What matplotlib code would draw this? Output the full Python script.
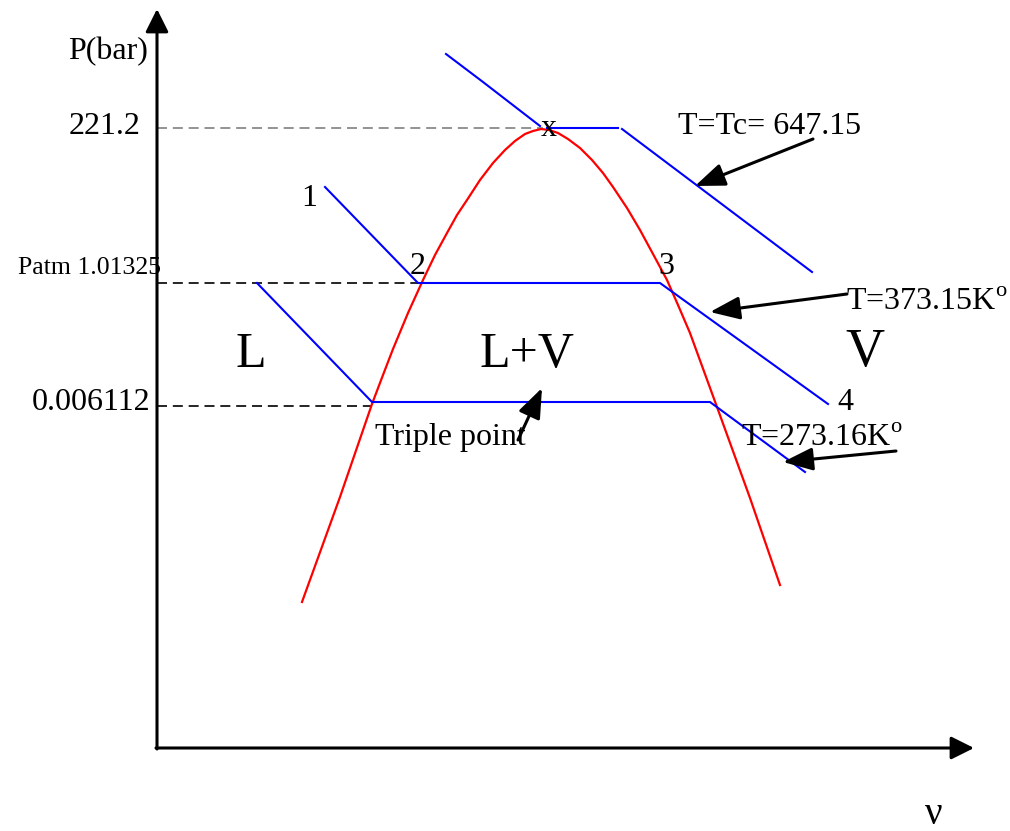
import matplotlib.pyplot as plt

plt.rcParams['font.family'] = ['Liberation Serif', 'DejaVu Serif']
plt.rcParams['mathtext.fontset'] = 'custom'
plt.rcParams['mathtext.rm'] = 'Liberation Serif'

# schematic P-v diagram, drawn in a canvas frame (v to the right, P upwards = smaller y)
dome_v = [302, 340, 372, 383, 393, 408, 423, 435, 447, 457, 467, 480, 493, 505, 515, 525,
          533, 541, 549, 558, 568, 580, 592, 603, 613, 627, 640, 653, 667, 678, 690, 717,
          750, 780]
dome_p = [602, 497, 404, 375, 349, 313, 280, 255, 233, 215, 200, 180, 163, 150, 141, 134,
          131, 129, 130, 133, 139, 148, 160, 173, 187, 208, 230, 254, 280, 305, 333, 407,
          498, 585]

# isotherms
tc_left_v = [446, 483, 540]
tc_left_p = [54, 82, 126]
tc_flat_v = [547, 618]
tc_flat_p = [128, 128]
tc_right_v = [622, 812]
tc_right_p = [129, 272]

t100_v = [325, 418, 660, 828]
t100_p = [187, 283, 283, 404]

t0_v = [257, 372, 710, 805]
t0_p = [283, 402, 402, 472]

# pressure levels and their labels
p_levels = [128, 283, 406]
p_level_ends = [543, 418, 372]
p_level_colors = ['#808080', 'black', 'black']

fig = plt.figure(figsize=(10.1, 8.31), dpi=100)
ax = fig.add_axes([0, 0, 1, 1])
ax.set_xlim(0, 1010)
ax.set_ylim(831, 0)
ax.axis('off')

# axes with arrow heads
axis_arrow = dict(arrowstyle='-|>,head_length=0.5,head_width=0.25',
                  lw=2.2, color='black', shrinkA=0, shrinkB=0, mutation_scale=28)
ax.annotate('', xy=(157, 9), xytext=(157, 749), arrowprops=axis_arrow)
ax.annotate('', xy=(974, 748), xytext=(156, 748), arrowprops=axis_arrow)

for p, end, c in zip(p_levels, p_level_ends, p_level_colors):
    ax.plot([157, end], [p, p], color=c, lw=1.2, linestyle=(0, (6, 3.5)))

ax.plot(dome_v, dome_p, color='red', lw=1.6)

for v, p in [(tc_left_v, tc_left_p), (tc_flat_v, tc_flat_p), (tc_right_v, tc_right_p),
             (t100_v, t100_p), (t0_v, t0_p)]:
    ax.plot(v, p, color='blue', lw=1.5)

# pointer arrows: (tail, tip)
pointers = [((813, 139), (695, 186)),
            ((847, 294), (710, 312)),
            ((896, 451), (783, 462)),
            ((518, 440), (542, 388))]
for tail, tip in pointers:
    ax.annotate('', xy=tip, xytext=tail,
                arrowprops=dict(arrowstyle='-|>,head_length=0.65,head_width=0.25',
                                lw=2.2, color='black', shrinkA=0, shrinkB=0,
                                mutation_scale=28))

fs = 23
ax.text(148, 52, 'P(bar)', fontsize=fs, ha='right', va='center')
ax.text(141, 127, '221.2', fontsize=fs, ha='right', va='center')
ax.text(161, 268, 'Patm 1.01325', fontsize=18.5, ha='right', va='center')
ax.text(150, 403, '0.006112', fontsize=fs, ha='right', va='center')

ax.text(309, 198, '1', fontsize=fs, ha='center', va='center')
ax.text(418, 266, '2', fontsize=fs, ha='center', va='center')
ax.text(666, 266, '3', fontsize=fs, ha='center', va='center')
ax.text(845, 402, '4', fontsize=fs, ha='center', va='center')
ax.text(549, 128, 'x', fontsize=fs, ha='center', va='center')

ax.text(251, 355, 'L', fontsize=36, ha='center', va='center')
ax.text(527, 355, 'L+V', fontsize=36, ha='center', va='center')
ax.text(865, 353, 'V', fontsize=39, ha='center', va='center')

ax.text(678, 126, 'T=Tc= 647.15', fontsize=fs, ha='left', va='center')
ax.text(846, 303, r'T=373.15K$^{\mathrm{o}}$', fontsize=fs, ha='left', va='center')
ax.text(741, 438, r'T=273.16K$^{\mathrm{o}}$', fontsize=fs, ha='left', va='center')
ax.text(375, 438, 'Triple point', fontsize=fs, ha='left', va='center')

ax.text(934, 814, 'ν', fontsize=28, ha='center', va='center')

fig.savefig('out.png', dpi=100)
